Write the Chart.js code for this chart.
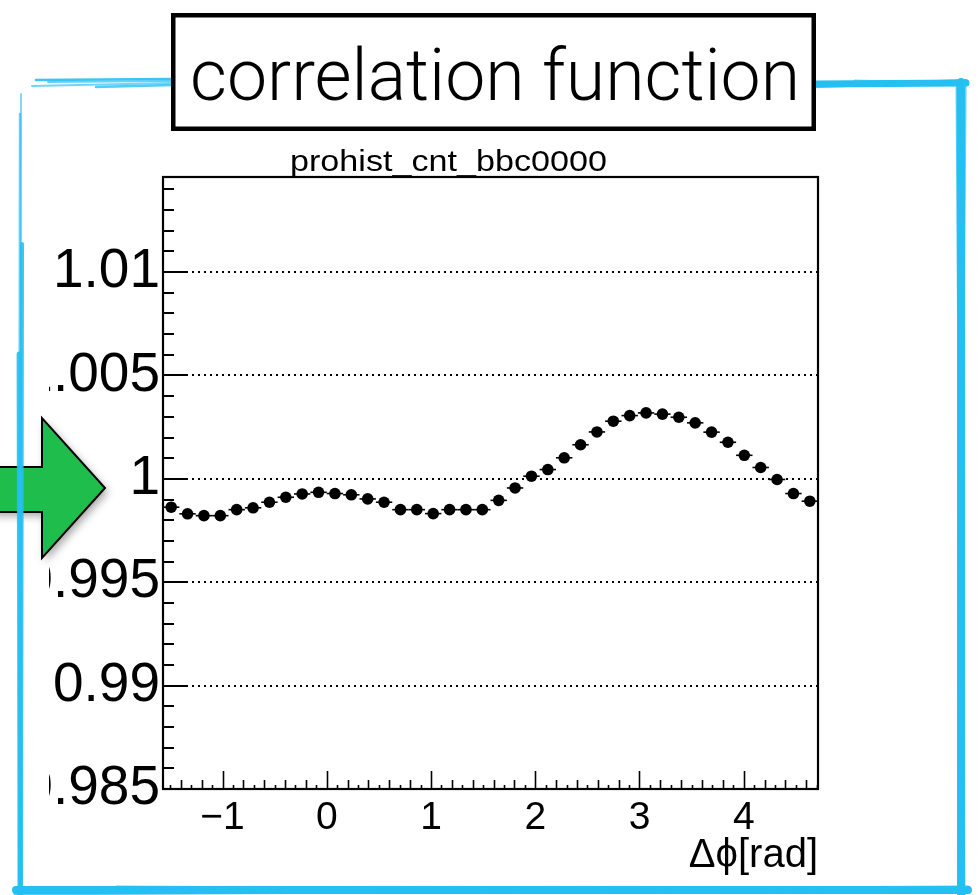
<!DOCTYPE html>
<html>
<head>
<meta charset="utf-8">
<script src="https://cdn.jsdelivr.net/npm/chart.js@4.4.1/dist/chart.umd.min.js"></script>
<style>
  html, body { margin: 0; padding: 0; background: #fff; overflow: hidden; }
  #wrap { position: relative; width: 979px; height: 895px; }
  canvas { display: block; }
</style>
</head>
<body>
<div id="wrap"><canvas id="c" width="979" height="895"></canvas></div>
<script>
// ---- labels ----
const slideTitle = 'correlation function';
const histTitle = 'prohist_cnt_bbc0000';
const xAxisTitle = 'Δϕ[rad]';

// ---- binning of the Δϕ histogram ----
const phiMin = -Math.PI / 2;
const phiMax = 3 * Math.PI / 2;
const nBins = 40;

// ---- correlation function, one value per Δϕ bin ----
const corrValues = [
  0.99863, 0.99831, 0.99822, 0.99822, 0.99851, 0.99860, 0.99887, 0.99911,
  0.99927, 0.99935, 0.99929, 0.99923, 0.99903, 0.99887, 0.99851, 0.99851,
  0.99832, 0.99851, 0.99851, 0.99851, 0.99896, 0.99956, 1.00013, 1.00045,
  1.00102, 1.00165, 1.00227, 1.00279, 1.00306, 1.00319, 1.00313, 1.00298,
  1.00271, 1.00226, 1.00177, 1.00114, 1.00055, 0.99997, 0.99929, 0.99892
];

// ---- axes ----
const yMin = 0.985;
const yMax = 1.0146;
const yTickValues = [0.985, 0.99, 0.995, 1, 1.005, 1.01];
const yTickLabels = ['0.985', '0.99', '0.995', '1', '1.005', '1.01'];
const xTickValues = [-1, 0, 1, 2, 3, 4];
const xTickLabels = ['\u22121', '0', '1', '2', '3', '4'];

const binWidth = (phiMax - phiMin) / nBins;
const binCentres = corrValues.map((_, i) => phiMin + (i + 0.5) * binWidth);
const points = corrValues.map((v, i) => ({ x: binCentres[i], y: v }));

const FONT = '"Liberation Sans", Arial, Helvetica, sans-serif';
const BLUE = '#26bff2';

// deterministic "hand-drawn" stroke: several slightly shifted passes
function roughStroke(ctx, x1, y1, x2, y2, w, layers) {
  layers.forEach(([a, b, c, d, f, al]) => {
    ctx.globalAlpha = al;
    ctx.lineWidth = w * f;
    ctx.beginPath();
    ctx.moveTo(x1 + a, y1 + b);
    ctx.lineTo(x2 + c, y2 + d);
    ctx.stroke();
  });
  ctx.globalAlpha = 1;
}

// text squeezed/stretched horizontally to a given width
function fitText(ctx, text, cx, baseline, width) {
  const w = ctx.measureText(text).width;
  ctx.save();
  ctx.translate(cx, baseline);
  ctx.scale(width / w, 1);
  ctx.textAlign = 'center';
  ctx.fillText(text, 0, 0);
  ctx.restore();
}

const rootFrame = {
  id: 'rootFrame',
  beforeDatasetsDraw(chart) {
    const { ctx, chartArea: a, scales: { x, y } } = chart;
    ctx.save();
    // dotted horizontal grid at the major y ticks
    ctx.strokeStyle = '#000';
    ctx.lineWidth = 2;
    ctx.setLineDash([2, 4]);
    yTickValues.forEach(v => {
      if (v <= yMin || v >= yMax) return;
      const py = Math.round(y.getPixelForValue(v));
      ctx.beginPath();
      ctx.moveTo(a.left + 23, py);
      ctx.lineTo(a.right, py);
      ctx.stroke();
    });
    ctx.setLineDash([]);
    // bin-width bars
    ctx.lineWidth = 1.6;
    points.forEach(p => {
      const py = y.getPixelForValue(p.y);
      ctx.beginPath();
      ctx.moveTo(x.getPixelForValue(p.x - binWidth / 2), py);
      ctx.lineTo(x.getPixelForValue(p.x + binWidth / 2), py);
      ctx.stroke();
    });
    ctx.restore();
  },
  afterDraw(chart) {
    const { ctx, chartArea: a, scales: { x, y } } = chart;
    ctx.save();
    ctx.strokeStyle = '#000';
    ctx.lineWidth = 2;

    // y ticks every 0.001, major every 0.005
    for (let k = 0; k <= 30; k++) {
      const v = 0.985 + k * 0.001;
      if (v > yMax) break;
      const py = Math.round(y.getPixelForValue(v));
      const len = (k % 5 === 0) ? 23 : 11;
      ctx.beginPath();
      ctx.moveTo(a.left, py);
      ctx.lineTo(a.left + len, py);
      ctx.stroke();
    }
    // x ticks every 0.1, secondary every 0.2, major every 1
    ctx.lineWidth = 1.6;
    for (let k = -16; k <= 48; k++) {
      const v = k / 10;
      if (v <= phiMin || v >= phiMax) continue;
      const px = Math.round(x.getPixelForValue(v)) + 0.5;
      const len = (k % 10 === 0) ? 18 : (k % 2 === 0 ? 9 : 4);
      ctx.beginPath();
      ctx.moveTo(px, a.bottom);
      ctx.lineTo(px, a.bottom - len);
      ctx.stroke();
    }
    // frame
    ctx.lineWidth = 2.2;
    ctx.strokeRect(a.left, a.top, a.right - a.left, a.bottom - a.top);

    // histogram title
    ctx.fillStyle = '#000';
    ctx.textBaseline = 'alphabetic';
    ctx.font = '30px ' + FONT;
    fitText(ctx, histTitle, 448.5, 171, 317);

    // x axis title
    ctx.font = '40px ' + FONT;
    ctx.textAlign = 'right';
    ctx.fillText(xAxisTitle, a.right, 867);

    // picture edge cutting the y labels
    ctx.fillStyle = '#fff';
    ctx.fillRect(0, 140, 49, 680);

    // green arrow
    const arrow = () => {
      ctx.beginPath();
      ctx.moveTo(-10, 467);
      ctx.lineTo(42, 467);
      ctx.lineTo(42, 418);
      ctx.lineTo(105, 488);
      ctx.lineTo(42, 558);
      ctx.lineTo(42, 512);
      ctx.lineTo(-10, 512);
      ctx.closePath();
    };
    ctx.save();
    ctx.shadowColor = 'rgba(0,0,0,0.35)';
    ctx.shadowBlur = 9;
    ctx.shadowOffsetX = 3;
    ctx.shadowOffsetY = 4;
    arrow();
    ctx.fillStyle = '#1fbd4c';
    ctx.fill();
    ctx.restore();
    arrow();
    ctx.strokeStyle = '#000';
    ctx.lineWidth = 2;
    ctx.lineJoin = 'miter';
    ctx.stroke();

    // sketched blue frame
    ctx.strokeStyle = BLUE;
    ctx.lineCap = 'round';
    roughStroke(ctx, 36, 80, 172, 80, 4, [
      [0, 0, 0, -1, 0.6, 0.9], [-4, 6, 0, 3, 0.5, 0.65], [12, 2, 0, 1, 0.5, 0.7], [60, 7, 0, 5, 0.6, 0.8]
    ]);
    roughStroke(ctx, 815, 84, 966, 83, 7, [
      [0, 0, 0, 0, 1, 1], [2, 2, 0, -2, 0.6, 0.8], [40, -3, 0, 1, 0.4, 0.6]
    ]);
    roughStroke(ctx, 961, 82, 961, 895, 8, [
      [0, 0, 0, 0, 1, 1], [-3, 6, 2, 0, 0.6, 0.8], [4, 0, -2, -20, 0.4, 0.7]
    ]);
    roughStroke(ctx, 16, 890, 968, 890, 8, [
      [0, 0, 0, 0, 1, 1], [0, 3, 0, -2, 0.6, 0.8], [100, -3, 0, 2, 0.4, 0.7]
    ]);
    roughStroke(ctx, 21, 94, 21, 895, 4, [
      [0, 0, 0, 0, 0.5, 0.6], [-1, 20, -2, 0, 0.6, 0.7], [1, 150, 0, 0, 1, 0.9], [-2, 260, -1, 0, 1.2, 0.9]
    ]);

    // slide title box
    ctx.lineCap = 'butt';
    ctx.fillStyle = '#fff';
    ctx.fillRect(173, 15, 641, 114);
    ctx.strokeStyle = '#000';
    ctx.lineWidth = 4.5;
    ctx.strokeRect(173.25, 15.25, 640.5, 113.5);
    ctx.fillStyle = '#000';
    ctx.font = '300 72px Roboto, ' + FONT;
    fitText(ctx, slideTitle, 495, 100, 610);
    ctx.restore();
  }
};

new Chart(document.getElementById('c'), {
  type: 'scatter',
  data: {
    datasets: [{
      data: points,
      showLine: false,
      pointRadius: 5.8,
      pointHoverRadius: 5.8,
      pointBackgroundColor: '#000',
      pointBorderColor: '#000',
      pointBorderWidth: 0
    }]
  },
  options: {
    responsive: false,
    devicePixelRatio: 1,
    animation: false,
    events: [],
    layout: { padding: { left: 0, right: 161, top: 177, bottom: 0 } },
    plugins: { legend: { display: false }, title: { display: false }, tooltip: { enabled: false } },
    scales: {
      x: {
        type: 'linear',
        min: phiMin,
        max: phiMax,
        afterBuildTicks: s => { s.ticks = xTickValues.map(v => ({ value: v })); },
        afterFit: s => { s.height = 106; },
        ticks: {
          callback: v => xTickLabels[xTickValues.indexOf(v)],
          font: { family: FONT, size: 39 },
          color: '#000',
          padding: 6,
          maxRotation: 0,
          autoSkip: false
        },
        grid: { display: false, drawTicks: false },
        border: { display: false }
      },
      y: {
        type: 'linear',
        min: yMin,
        max: yMax,
        afterBuildTicks: s => { s.ticks = yTickValues.map(v => ({ value: v })); },
        afterFit: s => { s.width = 163; },
        ticks: {
          callback: v => yTickLabels[yTickValues.indexOf(v)],
          font: { family: FONT, size: 55 },
          color: '#000',
          padding: 3,
          autoSkip: false
        },
        grid: { display: false, drawTicks: false },
        border: { display: false }
      }
    }
  },
  plugins: [rootFrame]
});
</script>
</body>
</html>
